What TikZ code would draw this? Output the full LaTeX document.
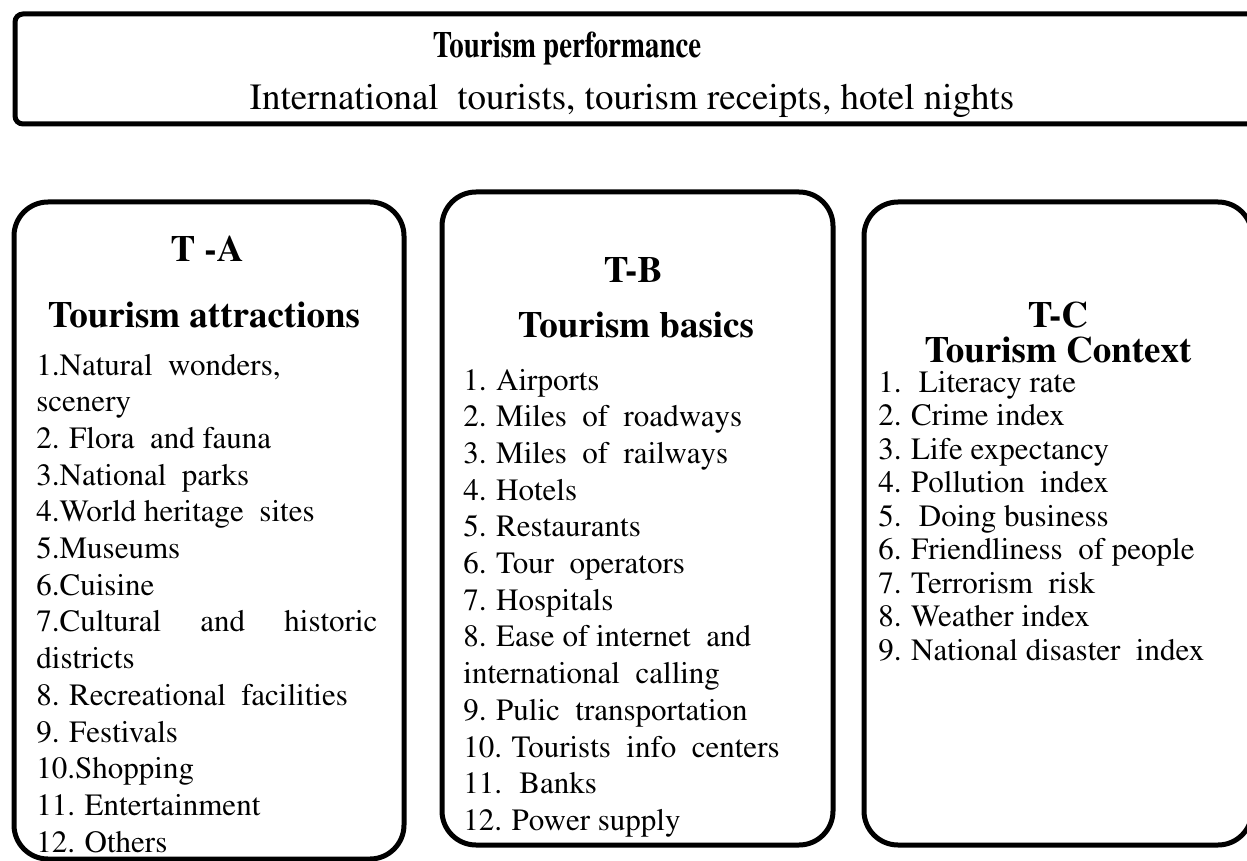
\documentclass[tikz,border=0pt]{standalone}
\usepackage[T1]{fontenc}
\usepackage{mathptmx}
\usepackage{graphicx}
\usepackage{tikz}
\tikzset{
  group box/.style={
    draw,
    line width=2.5pt,
    rounded corners=17pt,
    inner sep=0pt
  },
  perf box/.style={
    group box,
    rounded corners=4pt
  },
  head/.style={
    font=\fontsize{18.5}{22}\selectfont\bfseries,
    inner sep=0pt,
    anchor=base
  },
  sub head/.style={
    head,
    font=\fontsize{18.5}{22}\selectfont
  },
  item/.style={
    font=\fontsize{15.5}{18}\selectfont,
    inner sep=0pt,
    anchor=base west
  }
}
\newcommand{\spreadline}[2]{\makebox[#1][s]{#2}}

\begin{document}
\begin{tikzpicture}[x=0.5pt, y=-0.5pt]%[1 unit = 1 px of the page]
 \useasboundingbox (0,0) rectangle (1247,861);
 \node[perf box, minimum width=620.5pt, minimum height=55pt] (perf) at (635.5,69) {};
 \node[group box, minimum width=195pt, minimum height=328.5pt] (box_a) at (209,530.5) {};
 \node[group box, minimum width=195.5pt, minimum height=326.5pt] (box_b) at (637.5,518.5) {};
 \node[group box, minimum width=194pt, minimum height=321.5pt] (box_c) at (1058,523.5) {};
 % headings
 \node[head] (perf_t) at (567,58) {\scalebox{0.78}[1]{Tourism performance}};
 \node[sub head] (perf_s) at (632,110) {International~ tourists, tourism receipts, hotel nights};
 \node[head] (t_a) at (207,262) {T -A};
 \node[head] (n_a) at (204,328) {Tourism attractions};
 \node[head] (t_b) at (633,283) {T-B};
 \node[head] (n_b) at (636,337) {Tourism basics};
 \node[head] (t_c) at (1058,328) {T-C};
 \node[head] (n_c) at (1058,362) {Tourism Context};
 % lists
 \foreach \t [count=\i from 0] in {{1.Natural~ wonders,}, scenery, 2. Flora~ and fauna,
   3.National~ parks, 4.World heritage~ sites, 5.Museums, 6.Cuisine,
   {\spreadline{170.5pt}{7.Cultural and historic}}, districts,
   8. Recreational~ facilities, 9. Festivals, 10.Shopping, 11. Entertainment, 12. Others}
   \node[item] (a_\i) at (36,375+36.7*\i) {\t};
 \foreach \t [count=\i from 0] in {1. Airports, 2. Miles~ of~ roadways, 3. Miles~ of~ railways,
   4. Hotels, 5. Restaurants, 6. Tour~ operators, 7. Hospitals, 8. Ease of internet~ and,
   international~ calling, 9. Pulic~ transportation, 10. Tourists~ info~ centers,
   11.~ Banks, 12. Power supply}
   \node[item] (b_\i) at (463,390+36.7*\i) {\t};
 \foreach \t [count=\i from 0] in {1.~ Literacy rate, 2. Crime index, 3. Life expectancy,
   4. Pollution~ index, 5.~ Doing business, 6. Friendliness~ of people,
   7. Terrorism~ risk, 8. Weather index, 9. National disaster~ index}
   \node[item] (c_\i) at (878,392+33.5*\i) {\t};
\end{tikzpicture}
\end{document}
